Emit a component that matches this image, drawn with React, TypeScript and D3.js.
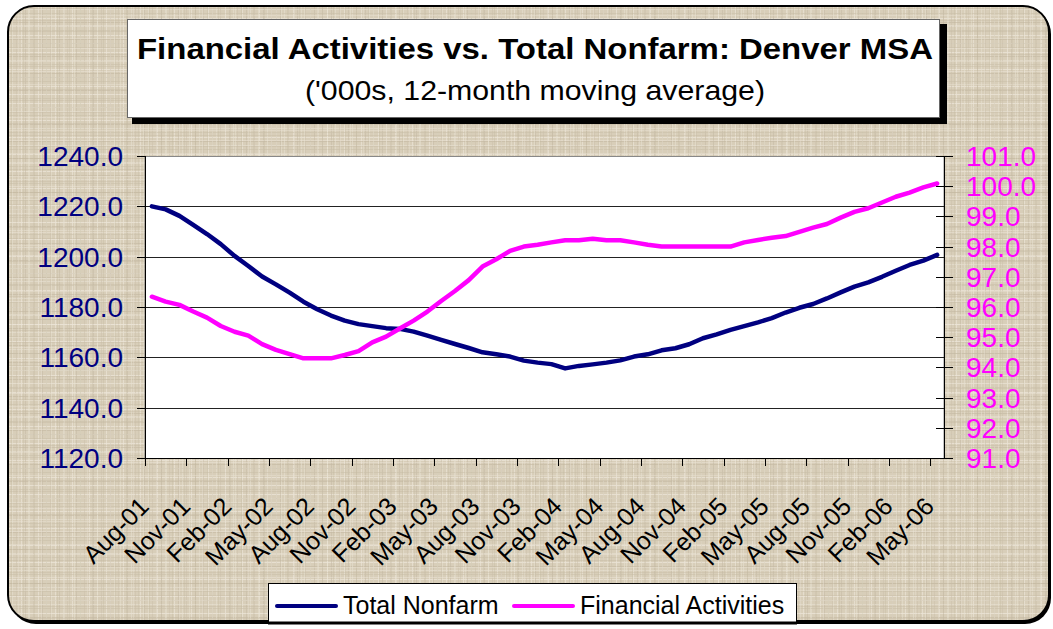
import React, { useRef, useEffect } from 'react';
import * as d3 from 'd3';

// monthly categories, Aug-01 .. May-06
const months = [
  'Aug-01', 'Sep-01', 'Oct-01', 'Nov-01', 'Dec-01',
  'Jan-02', 'Feb-02', 'Mar-02', 'Apr-02', 'May-02', 'Jun-02', 'Jul-02', 'Aug-02', 'Sep-02', 'Oct-02', 'Nov-02', 'Dec-02',
  'Jan-03', 'Feb-03', 'Mar-03', 'Apr-03', 'May-03', 'Jun-03', 'Jul-03', 'Aug-03', 'Sep-03', 'Oct-03', 'Nov-03', 'Dec-03',
  'Jan-04', 'Feb-04', 'Mar-04', 'Apr-04', 'May-04', 'Jun-04', 'Jul-04', 'Aug-04', 'Sep-04', 'Oct-04', 'Nov-04', 'Dec-04',
  'Jan-05', 'Feb-05', 'Mar-05', 'Apr-05', 'May-05', 'Jun-05', 'Jul-05', 'Aug-05', 'Sep-05', 'Oct-05', 'Nov-05', 'Dec-05',
  'Jan-06', 'Feb-06', 'Mar-06', 'Apr-06', 'May-06'
];

const tickMonths = [
  'Aug-01', 'Nov-01', 'Feb-02', 'May-02', 'Aug-02', 'Nov-02', 'Feb-03', 'May-03', 'Aug-03', 'Nov-03',
  'Feb-04', 'May-04', 'Aug-04', 'Nov-04', 'Feb-05', 'May-05', 'Aug-05', 'Nov-05', 'Feb-06', 'May-06'
];

const totalNonfarm = [
  1220.0, 1218.8, 1216.2, 1212.6, 1209.0, 1205.0, 1200.3, 1196.3, 1192.1, 1189.0,
  1185.7, 1182.1, 1179.1, 1176.6, 1174.6, 1173.2, 1172.4, 1171.6, 1171.3, 1170.2,
  1168.6, 1166.9, 1165.3, 1163.7, 1162.0, 1161.2, 1160.3, 1158.7, 1157.9, 1157.3,
  1155.6, 1156.6, 1157.2, 1157.9, 1158.8, 1160.3, 1161.2, 1162.8, 1163.6, 1165.2,
  1167.6, 1169.1, 1170.9, 1172.4, 1173.9, 1175.6, 1177.8, 1179.7, 1181.2, 1183.4,
  1185.8, 1188.1, 1189.8, 1192.0, 1194.4, 1196.7, 1198.4, 1200.7
];

const financialActivities = [
  96.34, 96.18, 96.07, 95.85, 95.65, 95.37, 95.18, 95.05, 94.77, 94.58,
  94.44, 94.30, 94.30, 94.30, 94.41, 94.54, 94.83, 95.02, 95.29, 95.55,
  95.85, 96.20, 96.53, 96.89, 97.34, 97.58, 97.86, 98.00, 98.06, 98.14,
  98.21, 98.21, 98.26, 98.21, 98.21, 98.14, 98.06, 98.00, 98.00, 98.00,
  98.00, 98.00, 98.00, 98.14, 98.22, 98.29, 98.35, 98.49, 98.63, 98.75,
  98.96, 99.15, 99.27, 99.46, 99.65, 99.79, 99.96, 100.09
];

const leftTicks = [1120, 1140, 1160, 1180, 1200, 1220, 1240];
const rightTicks = [91, 92, 93, 94, 95, 96, 97, 98, 99, 100, 101];

const seriesNames = ['Total Nonfarm', 'Financial Activities'];
const NAVY = '#000080';
const MAGENTA = '#ff00ff';
const FONT = "Arial, 'Liberation Sans', sans-serif";

const App = () => {
  const chartRef = useRef<SVGSVGElement>(null);

  useEffect(() => {
    const width = 1053;
    const height = 629;
    const left = 145, right = 944, top = 156, bottom = 458;

    const svg = d3.select(chartRef.current)
      .attr('width', width)
      .attr('height', height)
      .attr('viewBox', [0, 0, width, height].join(' '))
      .style('position', 'absolute')
      .style('left', '0px')
      .style('top', '0px');
    svg.selectAll('*').remove();

    // canvas-like texture: two overlaid weaves with different periods
    const defs = svg.append('defs');
    const weave = (id: string, size: number, base: string | null, stripes: [number, string, number][]) => {
      const pat = defs.append('pattern')
        .attr('id', id)
        .attr('patternUnits', 'userSpaceOnUse')
        .attr('width', size)
        .attr('height', size);
      if (base) pat.append('rect').attr('width', size).attr('height', size).attr('fill', base);
      stripes.forEach(([p, c, o]) => {
        pat.append('rect').attr('x', 0).attr('y', p).attr('width', size).attr('height', 1).attr('fill', c).attr('opacity', o);
        pat.append('rect').attr('x', (p + 3) % size).attr('y', 0).attr('width', 1).attr('height', size).attr('fill', c).attr('opacity', o * 0.85);
      });
    };
    weave('canvasA', 17, '#d8ceb9', [[1, '#ebe4d6', 0.8], [5, '#c4b9a2', 0.6], [9, '#e6dfcf', 0.7], [13, '#cbc1aa', 0.6]]);
    weave('canvasB', 23, null, [[2, '#eee8da', 0.45], [8, '#bfb49c', 0.35], [15, '#e9e2d3', 0.45], [20, '#c3b8a1', 0.35]]);

    // outer frame
    svg.append('rect')
      .attr('x', 10).attr('y', 8).attr('width', 1041).attr('height', 616).attr('rx', 26)
      .attr('fill', '#000');
    svg.append('rect')
      .attr('x', 8).attr('y', 6).attr('width', 1041).attr('height', 615).attr('rx', 26)
      .attr('fill', 'url(#canvasA)');
    svg.append('rect')
      .attr('x', 8).attr('y', 6).attr('width', 1041).attr('height', 615).attr('rx', 26)
      .attr('fill', 'url(#canvasB)')
      .attr('stroke', '#000')
      .attr('stroke-width', 2);

    // title box
    svg.append('rect').attr('x', 132).attr('y', 24).attr('width', 815).attr('height', 100).attr('fill', '#000');
    svg.append('rect').attr('x', 127.5).attr('y', 19.5).attr('width', 812).attr('height', 98)
      .attr('fill', '#fff').attr('stroke', '#666');
    svg.append('text')
      .attr('x', 535).attr('y', 59)
      .attr('text-anchor', 'middle')
      .attr('font-family', FONT).attr('font-weight', 'bold').attr('font-size', 30)
      .attr('textLength', 796).attr('lengthAdjust', 'spacingAndGlyphs')
      .text('Financial Activities vs. Total Nonfarm: Denver MSA');
    svg.append('text')
      .attr('x', 535).attr('y', 100)
      .attr('text-anchor', 'middle')
      .attr('font-family', FONT).attr('font-size', 28)
      .attr('textLength', 460).attr('lengthAdjust', 'spacingAndGlyphs')
      .text("('000s, 12-month moving average)");

    const x = d3.scaleBand<string>().domain(months).range([left, right]);
    const yL = d3.scaleLinear().domain([1120, 1240]).range([bottom, top]);
    const yR = d3.scaleLinear().domain([91, 101]).range([bottom, top]);
    const cx = (i: number) => (x(months[i]) as number) + x.bandwidth() / 2;

    // plot area
    svg.append('rect')
      .attr('x', left).attr('y', top + 0.5).attr('width', right - left).attr('height', bottom - top)
      .attr('fill', '#fff').attr('stroke', '#888');

    const grid = svg.append('g');
    leftTicks.slice(1, -1).forEach(v => {
      const yy = Math.round(yL(v)) + 0.5;
      grid.append('line').attr('x1', left).attr('x2', right).attr('y1', yy).attr('y2', yy)
        .attr('stroke', '#222').attr('stroke-width', 1);
    });

    // left axis
    const axL = svg.append('g');
    axL.append('line').attr('x1', left + 0.5).attr('x2', left + 0.5).attr('y1', top).attr('y2', bottom)
      .attr('stroke', '#000');
    leftTicks.forEach(v => {
      const yy = Math.round(yL(v)) + 0.5;
      axL.append('line').attr('x1', left - 8).attr('x2', left).attr('y1', yy).attr('y2', yy).attr('stroke', '#000');
      axL.append('text')
        .attr('x', 123).attr('y', yL(v)).attr('dy', '0.36em')
        .attr('text-anchor', 'end')
        .attr('font-family', FONT).attr('font-size', 28).attr('fill', NAVY)
        .text(v.toFixed(1));
    });

    // right axis
    const axR = svg.append('g');
    axR.append('line').attr('x1', right + 0.5).attr('x2', right + 0.5).attr('y1', top).attr('y2', bottom)
      .attr('stroke', '#000');
    rightTicks.forEach(v => {
      const yy = Math.round(yR(v)) + 0.5;
      axR.append('line').attr('x1', right - 8).attr('x2', right + 9).attr('y1', yy).attr('y2', yy).attr('stroke', '#000');
      axR.append('text')
        .attr('x', 966).attr('y', yR(v)).attr('dy', '0.36em')
        .attr('font-family', FONT).attr('font-size', 28).attr('fill', MAGENTA)
        .text(v.toFixed(1));
    });

    // bottom axis
    const axB = svg.append('g');
    axB.append('line').attr('x1', left).attr('x2', right + 9).attr('y1', bottom + 0.5).attr('y2', bottom + 0.5)
      .attr('stroke', '#000');
    tickMonths.forEach(m => {
      const xx = Math.round(x(m) as number) + 0.5;
      axB.append('line').attr('x1', xx).attr('x2', xx).attr('y1', bottom).attr('y2', bottom + 8).attr('stroke', '#000');
      const c = (x(m) as number) + x.bandwidth() / 2;
      axB.append('text')
        .attr('transform', `translate(${c - 1.5},${bottom + 50}) rotate(-45)`)
        .attr('text-anchor', 'end')
        .attr('font-family', FONT).attr('font-size', 25).attr('fill', '#000')
        .text(m);
    });

    // series
    const lineL = d3.line<number>().x((_, i) => cx(i)).y(d => yL(d));
    const lineR = d3.line<number>().x((_, i) => cx(i)).y(d => yR(d));
    svg.append('path').datum(totalNonfarm)
      .attr('fill', 'none').attr('stroke', NAVY).attr('stroke-width', 4.5)
      .attr('stroke-linejoin', 'round').attr('stroke-linecap', 'round')
      .attr('d', lineL);
    svg.append('path').datum(financialActivities)
      .attr('fill', 'none').attr('stroke', MAGENTA).attr('stroke-width', 4.5)
      .attr('stroke-linejoin', 'round').attr('stroke-linecap', 'round')
      .attr('d', lineR);

    // legend
    const lg = svg.append('g');
    lg.append('rect').attr('x', 268.5).attr('y', 583.5).attr('width', 528).attr('height', 40)
      .attr('fill', '#fff').attr('stroke', '#000');
    const items = [
      { name: seriesNames[0], color: NAVY, x0: 277 },
      { name: seriesNames[1], color: MAGENTA, x0: 514 }
    ];
    items.forEach(it => {
      lg.append('line').attr('x1', it.x0).attr('x2', it.x0 + 59).attr('y1', 606).attr('y2', 606)
        .attr('stroke', it.color).attr('stroke-width', 4).attr('stroke-linecap', 'round');
      lg.append('text').attr('x', it.x0 + 66).attr('y', 614)
        .attr('font-family', FONT).attr('font-size', 25).attr('fill', '#000')
        .text(it.name);
    });
    // frame bottom edge over legend
    svg.append('line').attr('x1', 268).attr('x2', 797).attr('y1', 623).attr('y2', 623)
      .attr('stroke', '#000').attr('stroke-width', 3);
  }, []);

  return <svg ref={chartRef}></svg>;
};

export default App;
